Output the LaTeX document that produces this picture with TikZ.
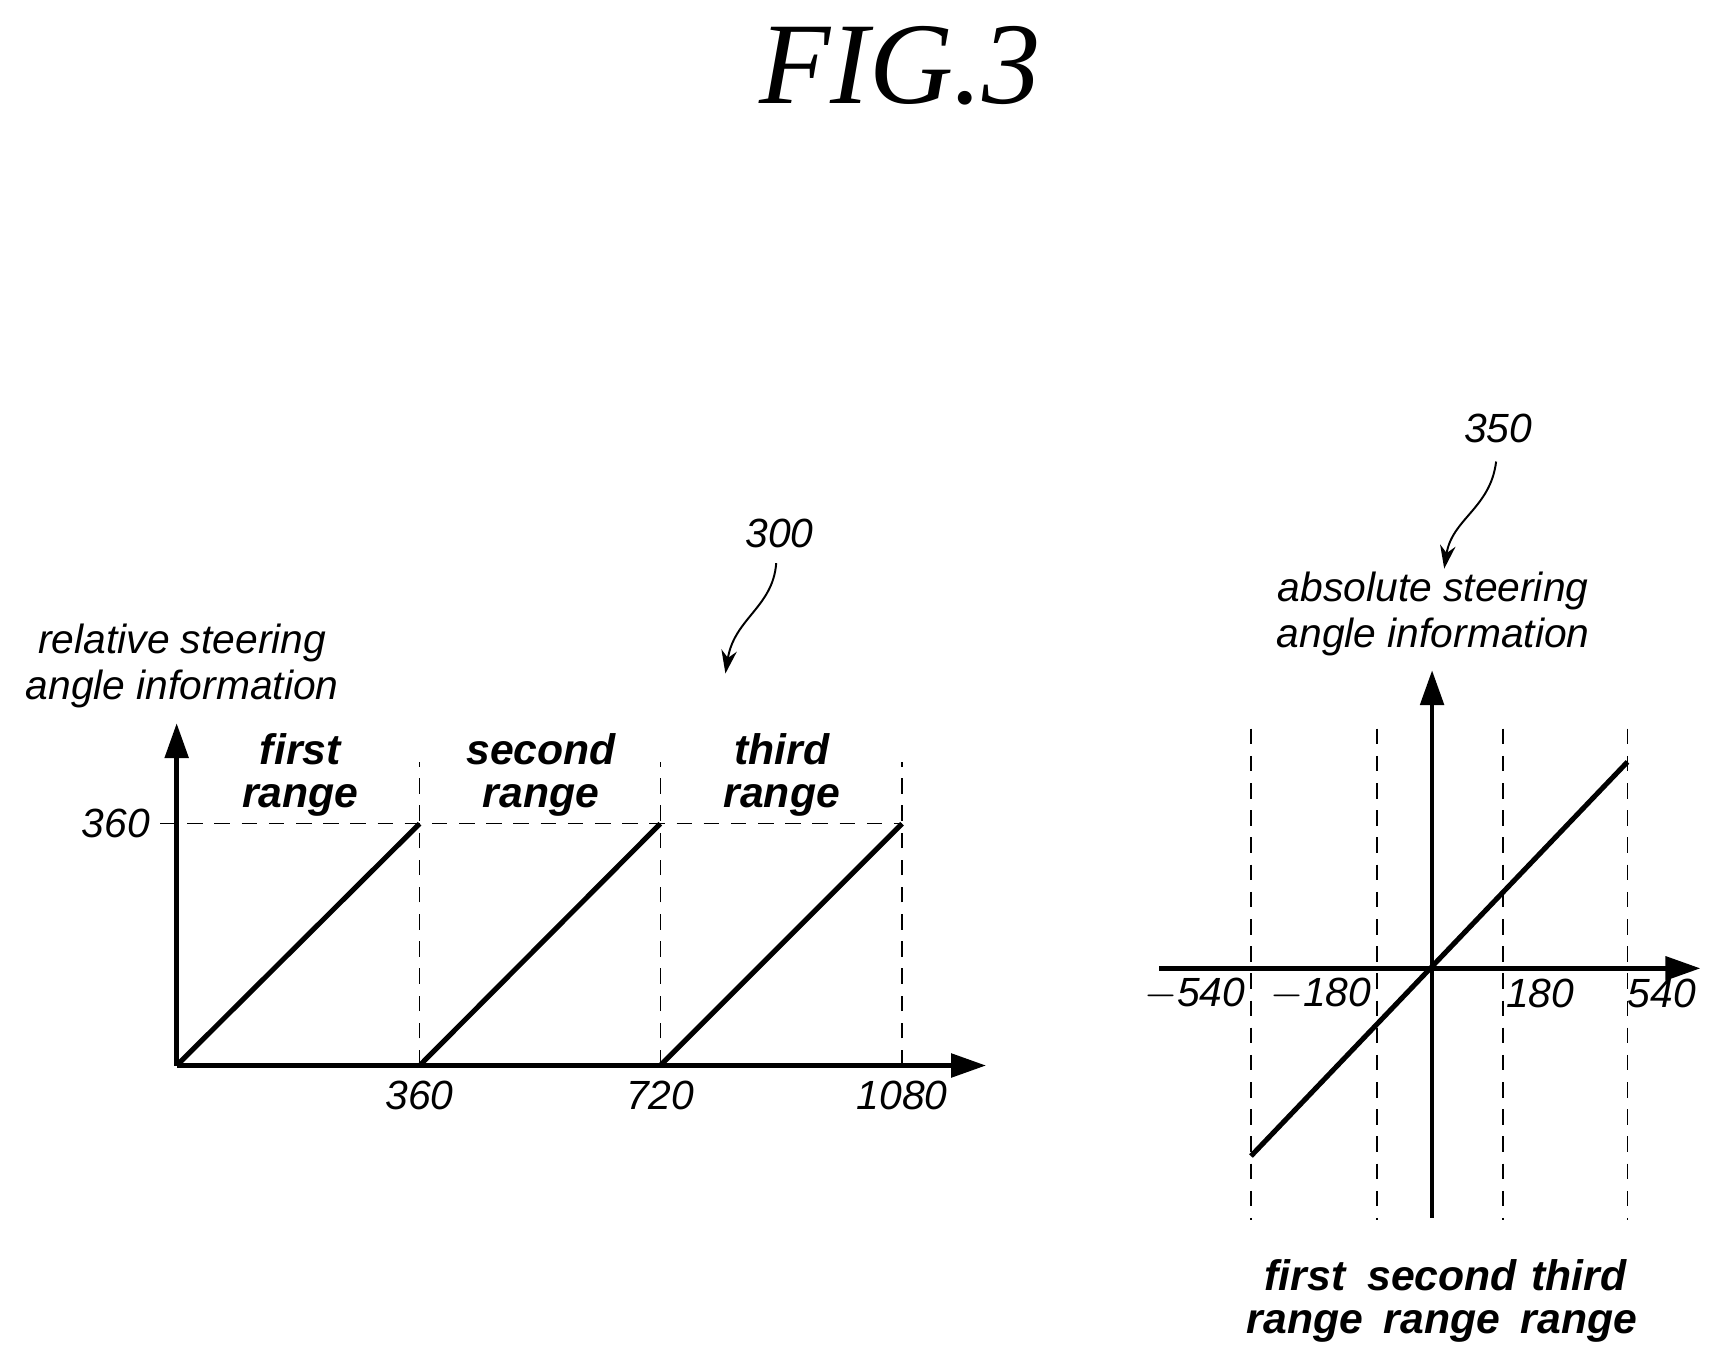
\documentclass[tikz,border=0pt]{standalone}
\usepackage{fontspec}
\setmainfont{Liberation Sans}
\newfontfamily\titlefont{Liberation Serif}
\usetikzlibrary{arrows.meta}
\begin{document}
\begin{tikzpicture}[
  x=0.01cm, y=-0.01cm,
  axis/.style={line width=1.2pt, -{Triangle[length=9pt,width=6pt]}},
  curve/.style={line width=1.3pt},
  guide/.style={dashed, line width=0.4pt, dash pattern=on 4pt off 3pt},
  lab/.style={font=\fontsize{10.5}{12}\selectfont\itshape, inner sep=1pt},
  rng/.style={font=\fontsize{11}{11}\selectfont\bfseries\itshape, align=center, inner sep=0pt},
  refarrow/.style={line width=0.5pt, -{Stealth[length=6pt,width=4pt]}}
]
\useasboundingbox (0,0) rectangle (1565,1227);

\node[font=\titlefont\fontsize{30}{30}\selectfont\itshape] (fig) at (815,60) {FIG.3};

% --- relative graph 300 ---
\coordinate (O) at (160,965);
\coordinate (Xend) at (893,965);
\coordinate (Yend) at (160,655);
\draw[axis] (O) -- (Xend);
\draw[axis] (O) -- (Yend);

\draw[guide] (145,746) -- (817,746);
\foreach \x in {380,598,817}
  \draw[guide] (\x,965) -- (\x,690);

\draw[curve] (160,965) -- (380,746);
\draw[curve] (380,965) -- (598,746);
\draw[curve] (598,965) -- (817,746);

\node[lab, anchor=east] (y360) at (140,746) {360};
\node[lab] (x360) at (380,992) {360};
\node[lab] (x720) at (598,992) {720};
\node[lab] (x1080) at (817,992) {1080};

\node[rng] (rel1) at (272,702) {first\\range};
\node[rng] (rel2) at (490,702) {second\\range};
\node[rng] (rel3) at (708,702) {third\\range};

\node[lab, align=center] (reltitle) at (165,603) {relative steering\\angle information};

\node[lab] (ref300) at (706,483) {300};
\draw[refarrow] (703,510) .. controls (700,550) and (665,560) .. (657,610);

% --- absolute graph 350 ---
\coordinate (P) at (1297,877);
\draw[axis] (1050,877) -- (1540,877);
\draw[axis] (1297,1103) -- (1297,607);

\foreach \x in {1133,1247,1361,1474}
  \draw[guide] (\x,660) -- (\x,1105);

\draw[curve] (1133,1047) -- (1474,690);

\node[lab] (am540) at (1082,900) {$-$540};
\node[lab] (am180) at (1196,900) {$-$180};
\node[lab] (ap180) at (1395,900) {180};
\node[lab] (ap540) at (1505,900) {540};

\node[rng] (abs1) at (1182,1178) {first\\range};
\node[rng] (abs2) at (1306,1178) {second\\range};
\node[rng] (abs3) at (1430,1178) {third\\range};

\node[lab, align=center] (abstitle) at (1298,556) {absolute steering\\angle information};

\node[lab] (ref350) at (1357,388) {350};
\draw[refarrow] (1355,418) .. controls (1350,460) and (1315,470) .. (1308,515);
\end{tikzpicture}
\end{document}
